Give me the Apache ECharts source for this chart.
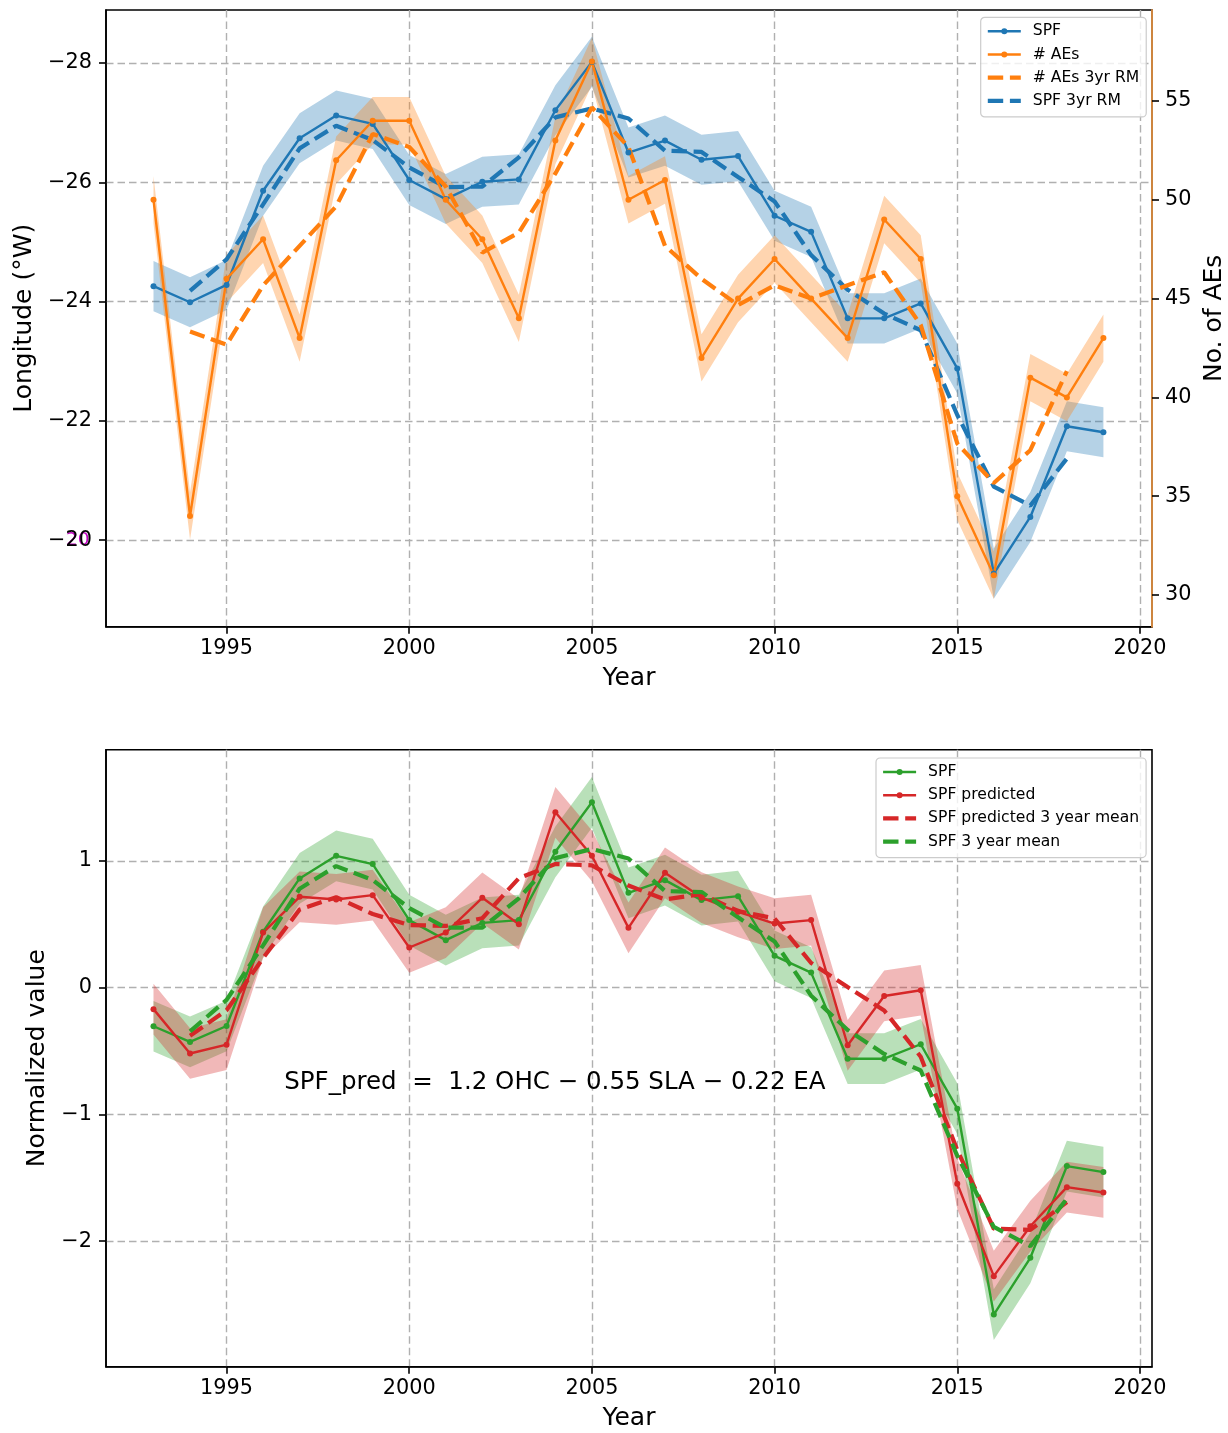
<!DOCTYPE html>
<html>
<head>
<meta charset="utf-8">
<script src="https://cdn.jsdelivr.net/npm/echarts@6/dist/echarts.min.js"></script>
<style>
  html, body { margin:0; padding:0; background:#fff; }
  #c1 { position:absolute; left:0; top:0; width:1228px; height:716px; }
  #c2 { position:absolute; left:0; top:716px; width:1228px; height:717px; }
</style>
</head>
<body>
<div id="c1"></div>
<div id="c2"></div>
<script>
// ---------- data ----------
const YEARS = [1993,1994,1995,1996,1997,1998,1999,2000,2001,2002,2003,2004,2005,2006,2007,2008,2009,2010,2011,2012,2013,2014,2015,2016,2017,2018,2019];
const RM_YEARS = [1994,1995,1996,1997,1998,1999,2000,2001,2002,2003,2004,2005,2006,2007,2008,2009,2010,2011,2012,2013,2014,2015,2016,2017,2018];

// top panel
const SPF_LON = [-24.26,-23.99,-24.28,-25.86,-26.74,-27.12,-26.98,-26.04,-25.72,-26.01,-26.05,-27.21,-28.02,-26.50,-26.70,-26.38,-26.44,-25.44,-25.17,-23.72,-23.72,-23.97,-22.88,-19.44,-20.39,-21.91,-21.81];
const AES = [50,34,46,48,43,52,54,54,50,48,44,53,57,50,51,42,45,47,45,43,49,47,35,31,41,40,43];
const AES_RM = [43.33,42.67,45.67,47.67,49.67,53.33,52.67,50.67,47.33,48.33,51.33,54.67,52.67,47.67,46.00,44.67,45.67,45.00,45.67,46.33,43.67,37.67,35.67,37.33,41.33];
const SPF_RM = [-24.18,-24.71,-25.63,-26.57,-26.95,-26.71,-26.25,-25.92,-25.93,-26.42,-27.09,-27.24,-27.07,-26.53,-26.51,-26.09,-25.68,-24.78,-24.20,-23.80,-23.52,-22.10,-20.90,-20.58,-21.37];
const SPF_LON_ERR = 0.42;   // half width of shaded band (°W)
const AES_ERR = 1.2;        // half width of shaded band (count)

// bottom panel
const SPF_NORM = [-0.305,-0.429,-0.303,0.44,0.861,1.039,0.974,0.532,0.374,0.51,0.532,1.071,1.461,0.747,0.847,0.69,0.721,0.25,0.118,-0.561,-0.561,-0.447,-0.955,-2.579,-2.131,-1.408,-1.455];
const SPF_PRED = [-0.17,-0.52,-0.45,0.434,0.716,0.695,0.729,0.316,0.434,0.708,0.5,1.382,1.039,0.471,0.905,0.71,0.597,0.505,0.532,-0.455,-0.066,-0.021,-1.547,-2.276,-1.882,-1.574,-1.616];
const SPF_MEAN = [-0.346,-0.097,0.333,0.78,0.958,0.848,0.627,0.472,0.472,0.704,1.021,1.093,1.018,0.761,0.753,0.554,0.363,-0.064,-0.335,-0.523,-0.654,-1.327,-1.888,-2.039,-1.665];
const PRED_MEAN = [-0.38,-0.179,0.233,0.615,0.713,0.58,0.493,0.486,0.547,0.863,0.974,0.964,0.805,0.695,0.737,0.604,0.545,0.194,0.004,-0.181,-0.545,-1.281,-1.902,-1.911,-1.691];
const NORM_ERR = 0.2;

const X_TICKS = [1995,2000,2005,2010,2015,2020];
const LON_TICKS = [-28,-26,-24,-22,-20];
const AES_TICKS = [30,35,40,45,50,55];
const NORM_TICKS = [-2,-1,0,1];
const FORMULA = 'SPF_pred  =  1.2 OHC \u2212 0.55 SLA \u2212 0.22 EA';

// ---------- style ----------
const FONT = 'DejaVu Sans';
const C_BLUE = '#1f77b4', C_ORANGE = '#ff7f0e', C_GREEN = '#2ca02c', C_RED = '#d62728';
const SPINE = '#cd853f';
const GRID_LINE = { show:true, lineStyle:{ color:'#b0b0b0', width:1.4, type:[7.5,4] } };
const TICK_FS = 20.8;
const SOLID_W = 2.4, DASH_W = 4.2, DASH = [15.4,6.7];
const fmtMinus = v => String(v).replace('-', '\u2212');

function pairs(xs, ys){ return xs.map((x,i)=>[x, ys[i]]); }

function solidLine(name, xs, ys, color, yAxisIndex){
  return { name, type:'line', yAxisIndex: yAxisIndex||0, data: pairs(xs, ys),
    symbol:'circle', symbolSize:6, showSymbol:true,
    lineStyle:{ color, width:SOLID_W }, itemStyle:{ color, borderWidth:0 },
    emphasis:{ disabled:true }, animation:false, silent:true };
}
function dashedLine(name, xs, ys, color, yAxisIndex){
  return { name, type:'line', yAxisIndex: yAxisIndex||0, data: pairs(xs, ys),
    symbol:'none',
    lineStyle:{ color, width:DASH_W, type:DASH }, itemStyle:{ color },
    emphasis:{ disabled:true }, animation:false, silent:true };
}
function band(xs, ys, err, color, yAxisIndex){
  const lo = ys.map(v => v - err), hi = ys.map(v => v + err);
  return { type:'custom', yAxisIndex: yAxisIndex||0, silent:true, animation:false,
    data: xs.map((x,i)=>[x, lo[i], hi[i]]), encode:{ x:0, y:[1,2] }, clip:true,
    renderItem: (params, api) => {
      if (params.dataIndex !== 0) return null;
      const top = xs.map((x,i)=>api.coord([x, hi[i]]));
      const bot = xs.map((x,i)=>api.coord([x, lo[i]])).reverse();
      return { type:'polygon', shape:{ points: top.concat(bot) }, style:{ fill: color, opacity:0.33 } };
    } };
}
function xAxisCfg(){
  return { type:'value', min:1991.7, max:2020.33,
    axisLine:{ show:true, onZero:false, lineStyle:{ color:'#000', width:1.6 } },
    axisTick:{ show:true, inside:false, length:7, lineStyle:{ color:'#000', width:1.6 }, customValues: X_TICKS },
    axisLabel:{ show:true, customValues: X_TICKS, formatter: v => String(v), fontFamily:FONT, fontSize:TICK_FS, color:'#000', margin:11 },
    splitLine: GRID_LINE,
    name:'Year', nameLocation:'middle', nameGap:39,
    nameTextStyle:{ fontFamily:FONT, fontSize:25, color:'#000' } };
}
function legendItem(name, dashed){
  return dashed
    ? { name, itemStyle:{ opacity:0 }, lineStyle:{ width:DASH_W, type:DASH } }
    : { name, lineStyle:{ width:SOLID_W, type:'solid' } };
}
function legendCfg(left, top, items){
  return { orient:'vertical', left, top, padding:[6,7,8,5], itemWidth:33, itemHeight:7.5, itemGap:7.2,
    backgroundColor:'rgba(255,255,255,0.8)', borderColor:'#cccccc', borderWidth:1.2, borderRadius:4,
    selectedMode:false, data: items,
    textStyle:{ fontFamily:FONT, fontSize:15.6, color:'#000', padding:[0,0,0,7] } };
}

// ---------- top chart ----------
const chart1 = echarts.init(document.getElementById('c1'));
chart1.setOption({
  animation:false,
  backgroundColor:'#fff',
  grid:{ left:106, right:76, top:10, bottom:89.3, outerBoundsMode:'none', containLabel:false,
    show:true, borderColor:'#000', borderWidth:1.6, backgroundColor:'transparent' },
  legend: legendCfg(980.7, 17.3, [legendItem('SPF',false), legendItem('# AEs',false), legendItem('# AEs 3yr RM',true), legendItem('SPF 3yr RM',true)]),
  xAxis: xAxisCfg(),
  yAxis: [
    { type:'value', inverse:true, min:-28.89, max:-18.55, position:'left',
      axisLine:{ show:true, onZero:false, lineStyle:{ color:'#000', width:1.6 } },
      axisTick:{ show:true, inside:false, length:7, lineStyle:{ color:'#000', width:1.6 }, customValues: LON_TICKS },
      axisLabel:{ customValues: LON_TICKS, formatter: fmtMinus, fontFamily:FONT, fontSize:TICK_FS, color:'#000', margin:14 },
      splitLine: GRID_LINE,
      name:'Longitude (\u00b0W)', nameLocation:'middle', nameGap:69, nameRotate:90,
      nameTextStyle:{ fontFamily:FONT, fontSize:25, color:'#000' } },
    { type:'value', min:28.4, max:59.6, position:'right', z:5,
      axisLine:{ show:true, onZero:false, lineStyle:{ color:SPINE, width:2 } },
      axisTick:{ show:true, inside:false, length:7, lineStyle:{ color:'#000', width:1.6 }, customValues: AES_TICKS },
      axisLabel:{ customValues: AES_TICKS, fontFamily:FONT, fontSize:TICK_FS, color:'#000', margin:13 },
      splitLine:{ show:false },
      name:'No. of AEs', nameLocation:'middle', nameGap:46, nameRotate:90,
      nameTextStyle:{ fontFamily:FONT, fontSize:25, color:'#000' } }
  ],
  series: [
    band(YEARS, SPF_LON, SPF_LON_ERR, C_BLUE, 0),
    solidLine('SPF', YEARS, SPF_LON, C_BLUE, 0),
    dashedLine('SPF 3yr RM', RM_YEARS, SPF_RM, C_BLUE, 0),
    band(YEARS, AES, AES_ERR, C_ORANGE, 1),
    solidLine('# AEs', YEARS, AES, C_ORANGE, 1),
    dashedLine('# AEs 3yr RM', RM_YEARS, AES_RM, C_ORANGE, 1)
  ]
});
(function(){
  const p = chart1.convertToPixel({ yAxisIndex:0 }, -20);
  chart1.setOption({ graphic:[{ type:'text', left:66, top:p - 10, silent:true,
    style:{ text:'20', fontFamily:FONT, fontSize:18.5, fill:'#bf00bf', textVerticalAlign:'top' } }] });
})();

// ---------- bottom chart ----------
const chart2 = echarts.init(document.getElementById('c2'));
chart2.setOption({
  animation:false,
  backgroundColor:'#fff',
  grid:{ left:106, right:76, top:33.7, bottom:66.3, outerBoundsMode:'none', containLabel:false,
    show:true, borderColor:'#000', borderWidth:1.6, backgroundColor:'transparent' },
  legend: legendCfg(876, 42, [legendItem('SPF',false), legendItem('SPF predicted',false), legendItem('SPF predicted 3 year mean',true), legendItem('SPF 3 year mean',true)]),
  xAxis: xAxisCfg(),
  yAxis: { type:'value', min:-2.99, max:1.876, position:'left',
      axisLine:{ show:true, onZero:false, lineStyle:{ color:'#000', width:1.6 } },
      axisTick:{ show:true, inside:false, length:7, lineStyle:{ color:'#000', width:1.6 }, customValues: NORM_TICKS },
      axisLabel:{ customValues: NORM_TICKS, formatter: fmtMinus, fontFamily:FONT, fontSize:TICK_FS, color:'#000', margin:14 },
      splitLine: GRID_LINE,
      name:'Normalized value', nameLocation:'middle', nameGap:53.5, nameRotate:90,
      nameTextStyle:{ fontFamily:FONT, fontSize:25, color:'#000' } },
  series: [
    band(YEARS, SPF_NORM, NORM_ERR, C_GREEN, 0),
    band(YEARS, SPF_PRED, NORM_ERR, C_RED, 0),
    solidLine('SPF', YEARS, SPF_NORM, C_GREEN, 0),
    solidLine('SPF predicted', YEARS, SPF_PRED, C_RED, 0),
    dashedLine('SPF predicted 3 year mean', RM_YEARS, PRED_MEAN, C_RED, 0),
    dashedLine('SPF 3 year mean', RM_YEARS, SPF_MEAN, C_GREEN, 0)
  ]
});
(function(){
  const p = chart2.convertToPixel({ xAxisIndex:0, yAxisIndex:0 }, [1996.58, -0.75]);
  chart2.setOption({ graphic:[{ type:'text', x:p[0], y:p[1], silent:true,
    style:{ text: FORMULA, fontFamily:FONT, fontSize:24.5, fill:'#000', textAlign:'left', textVerticalAlign:'middle' } }] });
})();
</script>
</body>
</html>
